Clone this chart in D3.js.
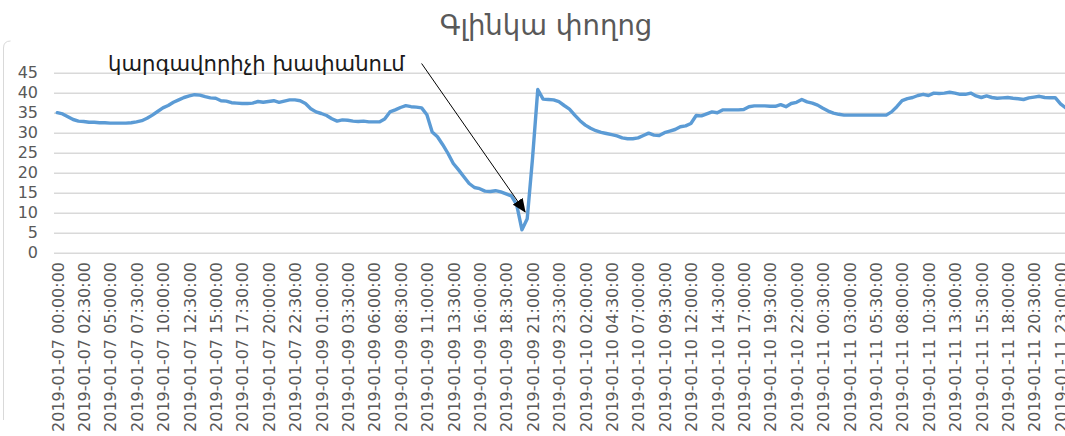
<!DOCTYPE html>
<html>
<head>
<meta charset="utf-8">
<script src="https://cdn.jsdelivr.net/npm/d3@7"></script>
<style>
  html, body { margin: 0; padding: 0; background: #fff; }
  svg { display: block; }
</style>
</head>
<body>
<svg id="chart" width="1065" height="436"></svg>
<script>
const title = "Գլինկա փողոց";
const annotationText = "կարգավորիչի խափանում";
const yTicks = [0, 5, 10, 15, 20, 25, 30, 35, 40, 45];
const tickLabels = [
  "2019-01-07 00:00:00","2019-01-07 02:30:00","2019-01-07 05:00:00","2019-01-07 07:30:00",
  "2019-01-07 10:00:00","2019-01-07 12:30:00","2019-01-07 15:00:00","2019-01-07 17:30:00",
  "2019-01-07 20:00:00","2019-01-07 22:30:00","2019-01-09 01:00:00","2019-01-09 03:30:00",
  "2019-01-09 06:00:00","2019-01-09 08:30:00","2019-01-09 11:00:00","2019-01-09 13:30:00",
  "2019-01-09 16:00:00","2019-01-09 18:30:00","2019-01-09 21:00:00","2019-01-09 23:30:00",
  "2019-01-10 02:00:00","2019-01-10 04:30:00","2019-01-10 07:00:00","2019-01-10 09:30:00",
  "2019-01-10 12:00:00","2019-01-10 14:30:00","2019-01-10 17:00:00","2019-01-10 19:30:00",
  "2019-01-10 22:00:00","2019-01-11 00:30:00","2019-01-11 03:00:00","2019-01-11 05:30:00",
  "2019-01-11 08:00:00","2019-01-11 10:30:00","2019-01-11 13:00:00","2019-01-11 15:30:00",
  "2019-01-11 18:00:00","2019-01-11 20:30:00","2019-01-11 23:00:00"
];
const pointsPerLabel = 5; // one reading every 30 min, one label every 2.5 h
const values = [
  35.0, 34.7, 34.0, 33.3, 32.9, 32.8, 32.6, 32.6, 32.5, 32.5,
  32.4, 32.4, 32.4, 32.4, 32.5, 32.7, 33.0, 33.6, 34.4, 35.3,
  36.2, 36.8, 37.6, 38.2, 38.8, 39.2, 39.5, 39.4, 39.0, 38.7,
  38.6, 38.0, 37.9, 37.5, 37.4, 37.3, 37.3, 37.4, 37.8, 37.6,
  37.8, 38.0, 37.6, 37.9, 38.2, 38.2, 38.0, 37.3, 36.0, 35.2,
  34.8, 34.3, 33.5, 32.9, 33.2, 33.1, 32.9, 32.8, 32.9, 32.7,
  32.7, 32.7, 33.4, 35.2, 35.7, 36.3, 36.75, 36.5, 36.4, 36.2,
  34.5, 30.2, 29.0, 27.0, 24.8, 22.3, 20.7, 19.0, 17.3, 16.3,
  16.0, 15.4, 15.3, 15.5, 15.2, 14.7, 14.2, 12.0, 5.7, 8.5,
  23.5, 40.8, 38.4, 38.3, 38.2, 37.75, 36.8, 35.9, 34.4, 33.0,
  31.9, 31.1, 30.5, 30.1, 29.8, 29.5, 29.2, 28.7, 28.5, 28.5,
  28.7, 29.3, 29.9, 29.4, 29.3, 30.0, 30.4, 30.8, 31.5, 31.7,
  32.3, 34.3, 34.2, 34.7, 35.2, 35.0, 35.7, 35.7, 35.7, 35.7,
  35.8, 36.5, 36.7, 36.7, 36.7, 36.6, 36.6, 37.0, 36.5, 37.3,
  37.6, 38.3, 37.7, 37.4, 36.9, 36.1, 35.4, 34.9, 34.6, 34.4,
  34.4, 34.4, 34.4, 34.4, 34.4, 34.4, 34.4, 34.4, 35.2, 36.5,
  38.0, 38.5, 38.8, 39.3, 39.6, 39.3, 39.9, 39.8, 39.9, 40.1,
  39.9, 39.6, 39.6, 39.9, 39.2, 38.8, 39.2, 38.8, 38.6, 38.7,
  38.8, 38.6, 38.5, 38.3, 38.7, 38.9, 39.1, 38.8, 38.75, 38.75,
  37.2, 36.2
];
// annotation: arrow from the label to the failure dip
const arrowStartValue = 47.3;   // in data units (y)
const arrowStartIndex = 69.0;   // in category index units (x)
const arrowEndIndex = 88.6;
const arrowEndValue = 10.2;

const svg = d3.select("#chart");
const W = 1065, H = 436;

const x = d3.scaleLinear()
  .domain([0, (tickLabels.length - 1) * pointsPerLabel])
  .range([57.3, 1060.5]);
const y = d3.scaleLinear().domain([0, 45]).range([252.7, 72.7]);

// chart area border (left edge visible)
svg.append("path")
  .attr("d", "M3.5,420 L3.5,48 Q3.5,41 10.5,41")
  .attr("fill", "none")
  .attr("stroke", "#d9d9d9")
  .attr("stroke-width", 1);

// title
svg.append("text")
  .attr("x", 546).attr("y", 35)
  .attr("text-anchor", "middle")
  .attr("font-family", "'DejaVu Sans', 'Noto Sans', sans-serif")
  .attr("font-size", 27.5)
  .attr("fill", "#595959")
  .text(title);

// gridlines + y axis
const yAxis = d3.axisLeft(y).tickValues(yTicks).tickSize(-(W - 54)).tickPadding(16);
const gy = svg.append("g").attr("transform", "translate(54,0)").call(yAxis);
gy.select(".domain").remove();
gy.selectAll(".tick line").attr("stroke", "#d9d9d9").attr("stroke-width", 1.6);
gy.selectAll(".tick text")
  .attr("fill", "#595959")
  .attr("font-family", "'DejaVu Sans', sans-serif")
  .attr("font-size", 16);

// x axis labels (category labels, rotated)
const xTickVals = tickLabels.map((d, i) => i * pointsPerLabel);
const xAxis = d3.axisBottom(x).tickValues(xTickVals)
  .tickFormat((d, i) => tickLabels[i]).tickSize(0).tickPadding(0);
const gx = svg.append("g").attr("transform", "translate(0,262)").call(xAxis);
gx.select(".domain").remove();
gx.selectAll(".tick text")
  .attr("transform", "rotate(-90)")
  .attr("text-anchor", "end")
  .attr("x", 0).attr("y", 0).attr("dy", "0.36em")
  .attr("fill", "#595959")
  .attr("font-family", "'DejaVu Sans', sans-serif")
  .attr("font-size", 16);

// line
const line = d3.line().x((d, i) => x(i)).y(d => y(d));
svg.append("path")
  .datum(values)
  .attr("d", line)
  .attr("fill", "none")
  .attr("stroke", "#5b9bd5")
  .attr("stroke-width", 3.4)
  .attr("stroke-linejoin", "round")
  .attr("stroke-linecap", "round");

// annotation text
svg.append("text")
  .attr("x", 108).attr("y", 71)
  .attr("font-family", "'DejaVu Sans', 'Noto Sans', sans-serif")
  .attr("font-size", 21.2)
  .attr("fill", "#1a1a1a")
  .text(annotationText);

// arrow
svg.append("defs").append("marker")
  .attr("id", "arrowhead")
  .attr("markerUnits", "userSpaceOnUse")
  .attr("markerWidth", 14).attr("markerHeight", 12)
  .attr("refX", 13).attr("refY", 6)
  .attr("orient", "auto")
  .append("path")
  .attr("d", "M0,0 L14,6 L0,12 Z")
  .attr("fill", "#000");

svg.append("line")
  .attr("x1", x(arrowStartIndex)).attr("y1", y(arrowStartValue))
  .attr("x2", x(arrowEndIndex)).attr("y2", y(arrowEndValue))
  .attr("stroke", "#000")
  .attr("stroke-width", 1)
  .attr("marker-end", "url(#arrowhead)");
</script>
</body>
</html>
